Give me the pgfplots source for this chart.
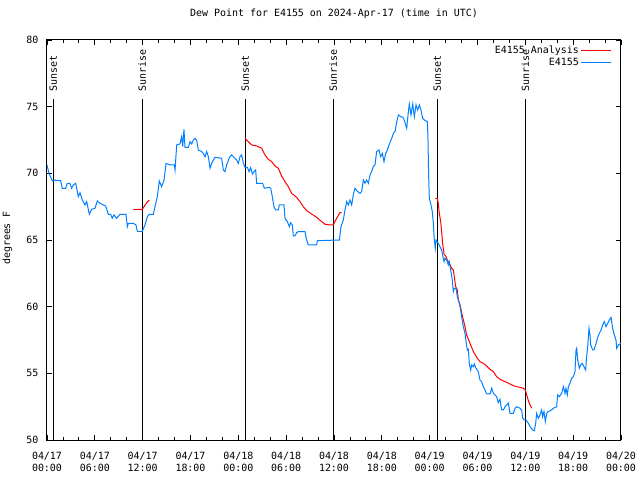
\documentclass[border=0pt]{standalone}
\usepackage{pgfplots}
\pgfplotsset{compat=1.18}
\usepackage{fontspec}
\setmainfont{DejaVu Sans Mono}
\definecolor{obsblue}{RGB}{0,128,255}
\definecolor{anared}{RGB}{255,0,0}
\begin{document}
\begin{tikzpicture}
\begin{axis}[
  at={(0,0)}, anchor=south west,
  scale only axis, width=574bp, height=400bp,
  xmin=0, xmax=72, ymin=50, ymax=80,
  font=\fontsize{10}{12}\selectfont,
  /pgf/number format/assume math mode=true,
  axis line style={line width=1bp},
  tick style={line width=0.8bp, black},
  tick align=inside,
  major tick length=5bp, minor tick length=3bp,
  xtick={0,6,...,72}, minor x tick num=2,
  ytick={50,55,...,80},
  xticklabels={{04/17\\00:00},{04/17\\06:00},{04/17\\12:00},{04/17\\18:00},{04/18\\00:00},{04/18\\06:00},{04/18\\12:00},{04/18\\18:00},{04/19\\00:00},{04/19\\06:00},{04/19\\12:00},{04/19\\18:00},{04/20\\00:00}},
  xticklabel style={align=center, yshift=-9bp, font=\fontsize{10}{12}\selectfont},
  yticklabel style={xshift=-5bp},
  title={Dew Point for E4155 on 2024-Apr-17 (time in UTC)},
  title style={at={(axis description cs:0.5,1)}, anchor=center, yshift=20bp},
  ylabel={degrees F},
  ylabel style={at={(axis description cs:-0.069,0.505)}, anchor=center},
  legend style={at={(axis description cs:1,1)}, anchor=north east, xshift=-9bp, yshift=-4bp,
    fill=none, draw opacity=0, inner sep=0pt, row sep=-1.5bp, font=\fontsize{10}{12}\selectfont},
  legend cell align=right,
  legend plot pos=right,
  legend image code/.code={\draw[mark repeat=2,mark phase=2,draw opacity=1,#1] plot coordinates {(0bp,0bp) (15bp,0bp) (30bp,0bp)};},
]
% sunrise / sunset markers
\addplot[black, line width=1bp, forget plot] coordinates {(0.79,50) (0.79,75.57)};
\addplot[black, line width=1bp, forget plot] coordinates {(11.95,50) (11.95,75.57)};
\addplot[black, line width=1bp, forget plot] coordinates {(24.87,50) (24.87,75.57)};
\addplot[black, line width=1bp, forget plot] coordinates {(35.91,50) (35.91,75.57)};
\addplot[black, line width=1bp, forget plot] coordinates {(48.96,50) (48.96,75.57)};
\addplot[black, line width=1bp, forget plot] coordinates {(60.0,50) (60.0,75.57)};
\node[rotate=90, anchor=west, inner sep=0pt] at (axis cs:0.79,76.1) {Sunset};
\node[rotate=90, anchor=west, inner sep=0pt] at (axis cs:11.95,76.1) {Sunrise};
\node[rotate=90, anchor=west, inner sep=0pt] at (axis cs:24.87,76.1) {Sunset};
\node[rotate=90, anchor=west, inner sep=0pt] at (axis cs:35.91,76.1) {Sunrise};
\node[rotate=90, anchor=west, inner sep=0pt] at (axis cs:48.96,76.1) {Sunset};
\node[rotate=90, anchor=west, inner sep=0pt] at (axis cs:60.0,76.1) {Sunrise};
% analysis (red)
\addplot[color=anared, line width=1bp] coordinates {
(10.83,67.3) (11.96,67.3) (12.50,67.8) (12.84,68.0)};
\addlegendentry{E4155 Analysis}
\addplot[color=anared, line width=1bp, forget plot] coordinates {
(24.84,72.63) (25.13,72.45) (25.67,72.13) (26.30,72.05) (26.93,71.88) (27.34,71.38)
(27.76,71.05) (28.18,70.88) (28.60,70.55) (29.02,70.38) (29.43,69.8) (29.85,69.38)
(30.27,69.0) (30.69,68.5) (31.32,68.2) (31.73,67.88) (32.15,67.5) (32.57,67.2)
(33.20,66.95) (33.82,66.7) (34.45,66.38) (34.87,66.18) (35.50,66.13) (35.91,66.13)
(36.33,66.63) (36.75,67.05) (36.96,67.05)};
\addplot[color=anared, line width=1bp, forget plot] coordinates {
(48.71,68.13) (48.96,68.13) (49.08,67.75) (49.21,67.0) (49.38,66.38) (49.50,65.63)
(49.63,64.75) (49.80,63.95) (50.05,63.75) (50.21,63.5) (50.47,63.25) (50.76,62.88)
(50.97,62.75) (51.09,62.25) (51.26,61.5) (51.47,61.25) (51.59,60.55) (51.80,60.15)
(52.13,59.25) (52.43,58.5) (52.64,57.88) (53.06,57.25) (53.48,56.63) (53.89,56.2)
(54.31,55.88) (54.73,55.75) (55.15,55.55) (55.57,55.3) (55.99,55.13) (56.40,54.75)
(56.82,54.55) (57.24,54.43) (57.66,54.33) (58.08,54.2) (58.50,54.08) (58.91,54.0)
(59.33,53.95) (59.75,53.88) (60.0,53.75) (60.17,53.38) (60.38,52.95) (60.59,52.63)
(60.80,52.38)};
% observations (blue)
\addplot[color=obsblue, line width=1bp] coordinates {
(0,70.63) (0.25,70.0) (0.67,69.43) (1.0,69.5) (1.13,69.45) (1.71,69.45) (1.92,68.88)
(2.34,68.88) (2.55,69.25) (2.88,69.25) (3.09,68.88) (3.30,69.13) (3.60,69.25) (3.72,68.88)
(3.93,68.25) (4.14,68.55) (4.43,68.0) (4.77,67.63) (4.98,67.88) (5.31,66.93) (5.60,67.3)
(6.02,67.38) (6.31,67.93) (6.65,67.75) (7.07,67.63) (7.36,67.55) (7.69,66.93) (7.99,66.93)
(8.19,66.63) (8.40,66.88) (8.74,66.63) (9.16,66.93) (9.91,66.93) (10.08,66.0) (10.20,66.25)
(10.83,66.25) (11.16,66.13) (11.33,65.65) (11.96,65.65) (12.29,66.13) (12.59,66.75)
(12.84,66.93) (13.34,66.93) (13.55,67.5) (13.84,68.25) (14.09,69.43) (14.38,69.0)
(14.68,69.5) (14.93,70.75) (15.43,70.63) (15.97,70.63) (16.06,70.25) (16.27,72.13)
(16.68,72.2) (16.89,72.75) (17.02,72.0) (17.18,73.3) (17.31,71.95) (17.73,71.95)
(17.94,72.38) (18.15,72.2) (18.36,72.5) (18.56,72.63) (18.77,72.5) (18.98,71.75)
(19.40,71.63) (19.61,71.5) (19.82,71.25) (20.03,71.63) (20.24,71.25) (20.45,70.38)
(20.65,70.75) (21.07,71.2) (21.91,71.13) (22.12,70.25) (22.33,70.13) (22.54,70.63)
(22.87,71.18) (23.16,71.38) (23.58,71.13) (23.79,71.0) (24.0,70.75) (24.21,71.25)
(24.42,71.38) (24.63,70.75) (24.84,70.45) (25.13,70.45) (25.34,70.13) (25.55,70.43)
(25.76,69.95) (25.96,70.13) (26.17,70.25) (26.30,69.25) (27.05,69.25) (27.26,68.88)
(27.89,68.95) (28.06,68.88) (28.26,68.25) (28.47,67.5) (28.68,67.25) (29.02,67.25)
(29.14,67.63) (29.73,67.63) (29.85,66.63) (30.15,66.38) (30.40,66.0) (30.56,66.3)
(30.77,66.13) (30.90,65.3) (31.11,65.3) (31.32,65.55) (31.53,65.63) (32.36,65.63)
(32.57,65.0) (32.78,64.63) (33.82,64.63) (33.91,64.95) (36.67,65.0) (36.88,66.0)
(37.17,66.5) (37.38,67.25) (37.59,67.88) (37.80,67.63) (38.01,68.0) (38.22,67.63)
(38.42,68.38) (38.63,68.88) (38.97,68.63) (39.26,68.5) (39.47,68.63) (39.68,69.5)
(39.89,69.25) (40.10,69.5) (40.31,69.25) (40.52,69.88) (40.72,70.13) (40.93,70.5)
(41.14,70.63) (41.35,71.63) (41.64,71.75) (41.85,71.25) (42.06,71.5) (42.27,70.88)
(42.48,71.5) (42.69,71.75) (42.90,72.13) (43.24,72.63) (43.45,73.0) (43.66,73.13)
(43.87,73.88) (44.08,74.38) (44.37,74.25) (44.62,74.2) (44.78,74.05) (45.12,73.38)
(45.33,74.63) (45.45,75.2) (45.66,74.38) (45.87,75.2) (46.08,74.25) (46.29,75.13)
(46.50,74.75) (46.70,75.13) (46.91,74.75) (47.12,74.13) (47.42,73.95) (47.71,73.9)
(47.79,72.55) (47.87,69.9) (47.96,68.1) (48.17,67.63) (48.33,67.13) (48.46,66.25)
(48.58,65.0) (48.71,64.38) (48.79,65.0) (49.08,64.75) (49.29,64.5) (49.50,64.25)
(49.63,63.88) (49.80,63.38) (49.92,63.63) (50.13,63.5) (50.34,63.13) (50.47,63.38)
(50.63,62.75) (50.84,62.0) (50.97,61.13) (51.09,61.38) (51.30,61.38) (51.47,60.75)
(51.72,60.25) (51.89,59.75) (52.01,59.25) (52.22,58.5) (52.43,58.0) (52.56,57.38)
(52.73,56.75) (52.85,56.8) (52.97,55.75) (53.14,55.25) (53.27,55.63) (53.48,55.5)
(53.60,55.7) (53.81,55.38) (54.10,55.13) (54.31,54.5) (54.52,54.38) (54.73,54.0)
(54.94,53.75) (55.15,53.45) (55.57,53.45) (55.78,53.88) (55.99,53.5) (56.19,53.38)
(56.40,53.25) (56.61,52.8) (56.82,53.05) (57.03,52.25) (57.24,52.25) (57.45,52.5)
(57.66,52.63) (57.87,52.75) (58.08,52.0) (58.50,52.0) (58.71,52.38) (58.91,52.5)
(59.33,52.38) (59.54,52.25) (59.67,51.63) (59.84,51.5) (60.09,51.5) (60.38,51.25)
(60.59,51.0) (60.92,50.75) (61.13,50.7) (61.30,51.25) (61.42,52.0) (61.63,51.63)
(61.84,51.88) (62.05,52.25) (62.17,51.75) (62.34,52.13) (62.51,51.38) (62.68,52.0)
(62.88,52.13) (63.30,52.25) (63.51,52.38) (63.93,52.5) (64.05,53.38) (64.26,53.25)
(64.56,53.5) (64.77,54.0) (64.98,53.5) (65.10,53.88) (65.27,53.38) (65.40,54.0)
(65.60,54.25) (65.81,54.63) (66.02,54.75) (66.23,55.13) (66.36,56.75) (66.44,56.88)
(66.57,56.0) (66.77,55.38) (66.94,55.63) (67.15,55.75) (67.36,55.5) (67.57,55.25)
(67.69,56.25) (67.82,57.0) (67.99,58.38) (68.11,57.88) (68.20,57.13) (68.45,56.75)
(68.61,56.75) (68.82,57.13) (69.08,57.7) (69.29,58.0) (69.50,58.25) (69.70,58.63)
(69.91,58.88) (70.12,58.5) (70.33,58.75) (70.54,59.0) (70.75,59.2) (70.95,58.38)
(71.16,57.88) (71.37,57.5) (71.46,56.88) (71.67,57.13) (72.0,57.25)};
\addlegendentry{E4155}
\end{axis}
\pgfresetboundingbox
\path (-47bp,-40bp) rectangle (593bp,440bp);
\end{tikzpicture}
\end{document}
